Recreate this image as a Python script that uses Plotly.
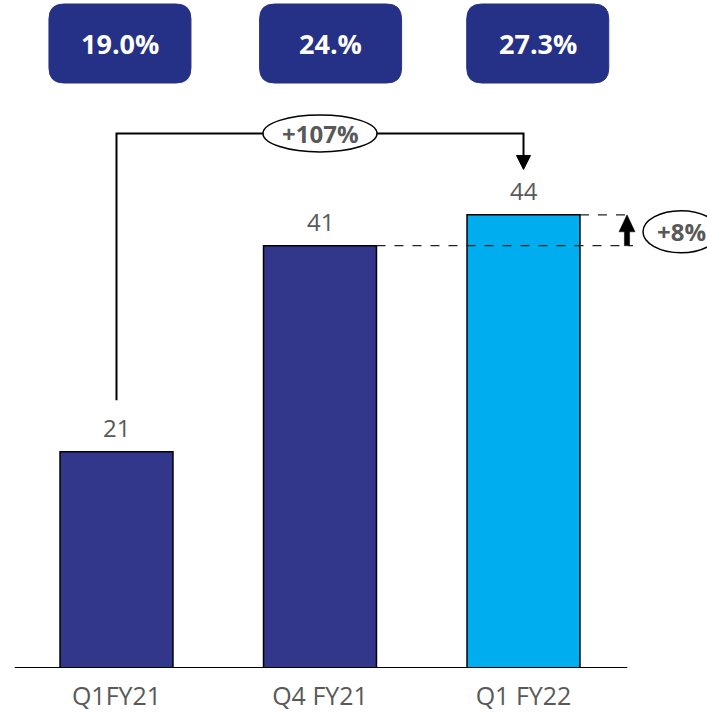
import plotly.graph_objects as go

# ---- data ----
categories = ["Q1FY21", "Q4 FY21", "Q1 FY22"]
values = [21, 41, 44]
bar_colors = ["#33378C", "#33378C", "#00AEEF"]
margins = ["19.0%", "24.%", "27.3%"]
growth_total = "+107%"
growth_q = "+8%"

# ---- geometry helpers (pixel <-> data) ----
W, H = 707, 714
B = 46                      # bottom margin
X0, XS = 116.5, 203.5       # pixel of category 0, pixels per category
YS = 10.3                   # pixels per unit
Y0 = H - B                  # pixel of value 0
def ux(px):  # pixel width -> data units (x)
    return px / XS
def uy(py):  # pixel height -> data units (y)
    return py / YS
x_range = [-X0 / XS, (W - X0) / XS]
y_range = [0, Y0 / YS]

FONT = "Open Sans"
GRAY = "#595959"

fig = go.Figure()
fig.add_trace(go.Bar(
    x=list(range(len(categories))), y=values, width=0.555,
    marker=dict(color=bar_colors, line=dict(color="black", width=1.5)),
    hoverinfo="skip",
))

shapes = []
annotations = []

# value labels
for i, v in enumerate(values):
    annotations.append(dict(x=i, y=v, text=str(v), showarrow=False, yanchor="bottom",
                            yshift=6, font=dict(family=FONT, size=24, color=GRAY)))

# baseline
shapes.append(dict(type="line", xref="x", yref="y", x0=-0.5, x1=2.5 + ux(2), y0=0, y1=0,
                   line=dict(color="black", width=2)))

# top rounded boxes
def rounded(x0, x1, y0, y1, rx, ry):
    return (f"M {x0+rx},{y0} L {x1-rx},{y0} Q {x1},{y0} {x1},{y0+ry} "
            f"L {x1},{y1-ry} Q {x1},{y1} {x1-rx},{y1} L {x0+rx},{y1} "
            f"Q {x0},{y1} {x0},{y1-ry} L {x0},{y0+ry} Q {x0},{y0} {x0+rx},{y0} Z")

box_offsets = [0.017, 1.052, 2.07]
box_w = ux(142)
box_top = y_range[1] - uy(4)
box_bot = y_range[1] - uy(83)
for cx, m in zip(box_offsets, margins):
    shapes.append(dict(type="path", xref="x", yref="y",
                       path=rounded(cx - box_w / 2, cx + box_w / 2, box_bot, box_top, ux(15), uy(15)),
                       fillcolor="#253186", line=dict(color="#253186", width=1)))
    annotations.append(dict(x=cx, y=(box_top + box_bot) / 2, text=f"<b>{m}</b>", showarrow=False,
                            font=dict(family=FONT, size=27, color="white")))

# elbow connector Q1FY21 -> Q1 FY22
conn_y = max(values) + 7.9
conn_bottom = values[0] + 5.0
tip_y = values[2] + 4.4
shapes.append(dict(type="path", xref="x", yref="y",
                   path=f"M 0,{conn_bottom} L 0,{conn_y} L 2,{conn_y} L 2,{tip_y + uy(12)}",
                   line=dict(color="black", width=2)))
hw = ux(7)
shapes.append(dict(type="path", xref="x", yref="y",
                   path=f"M {2-hw},{tip_y + uy(14)} L {2+hw},{tip_y + uy(14)} L 2,{tip_y} Z",
                   fillcolor="black", line=dict(color="black", width=1)))
# ellipse with +107%
shapes.append(dict(type="circle", xref="x", yref="y",
                   x0=1.0 - ux(57), x1=1.0 + ux(57), y0=conn_y - uy(18.5), y1=conn_y + uy(18.5),
                   fillcolor="white", line=dict(color="black", width=1.5)))
annotations.append(dict(x=1.0, y=conn_y, text=f"<b>{growth_total}</b>", showarrow=False,
                        font=dict(family=FONT, size=24, color=GRAY)))

# dashed reference lines
half = 0.555 / 2
dash_end = 2 + ux(633 - 523.5)
shapes.append(dict(type="line", xref="x", yref="y", x0=1 + half, x1=dash_end, y0=values[1], y1=values[1],
                   line=dict(color="#222222", width=1.3, dash="dash")))
shapes.append(dict(type="line", xref="x", yref="y", x0=2 + half, x1=dash_end, y0=values[2], y1=values[2],
                   line=dict(color="#222222", width=1.3, dash="dash")))

# up arrow (+8%)
ax_ = 2 + ux(627 - 523.5)
sw = ux(2.6)
hw2 = ux(8)
head_base = values[2] - uy(17)
shapes.append(dict(type="path", xref="x", yref="y",
                   path=(f"M {ax_-sw},{values[1]} L {ax_+sw},{values[1]} L {ax_+sw},{head_base} "
                         f"L {ax_+hw2},{head_base} L {ax_},{values[2]} L {ax_-hw2},{head_base} "
                         f"L {ax_-sw},{head_base} Z"),
                   fillcolor="black", line=dict(color="black", width=0.5)))
e_cx = 2 + ux(681 - 523.5)
e_cy = (values[1] + values[2]) / 2 - uy(1.5)
shapes.append(dict(type="circle", xref="x", yref="y",
                   x0=e_cx - ux(38), x1=e_cx + ux(38), y0=e_cy - uy(21), y1=e_cy + uy(21),
                   fillcolor="white", line=dict(color="black", width=1.5)))
annotations.append(dict(x=e_cx, y=e_cy, text=f"<b>{growth_q}</b>", showarrow=False,
                        font=dict(family=FONT, size=24, color=GRAY)))

fig.update_layout(
    width=W, height=H,
    margin=dict(l=0, r=0, t=0, b=B),
    paper_bgcolor="white", plot_bgcolor="white",
    showlegend=False,
    shapes=shapes, annotations=annotations,
    xaxis=dict(range=x_range, tickmode="array", tickvals=list(range(len(categories))),
               ticktext=categories, showgrid=False, zeroline=False, showline=False,
               tickfont=dict(family=FONT, size=25, color=GRAY), ticklabelstandoff=11,
               fixedrange=True),
    yaxis=dict(range=y_range, visible=False, fixedrange=True),
)

fig.write_html("out.html")
